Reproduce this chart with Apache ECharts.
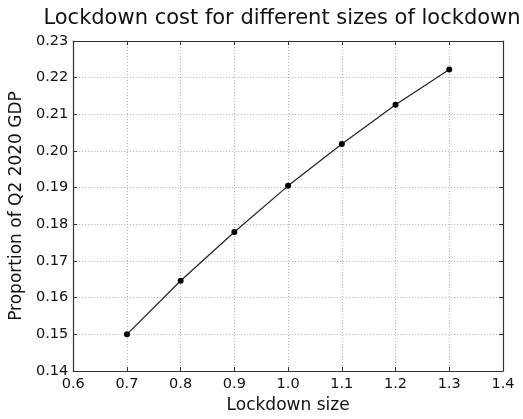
<!DOCTYPE html>
<html>
<head>
<meta charset="utf-8">
<script src="https://cdn.jsdelivr.net/npm/echarts@6/dist/echarts.min.js"></script>
<style>
  html, body { margin: 0; padding: 0; background: #ffffff; }
  #chart { width: 523px; height: 419px; }
</style>
</head>
<body>
<div id="chart"></div>
<script>
// Lockdown size (multiplier) and resulting cost as a share of Q2 2020 GDP
const lockdownSizes = [0.7, 0.8, 0.9, 1.0, 1.1, 1.2, 1.3];
const costShares = [0.1500, 0.1646, 0.1779, 0.1905, 0.2019, 0.2126, 0.2222];

const titleText = 'Lockdown cost for different sizes of lockdown';
const xName = 'Lockdown size';
const yName = 'Proportion of Q2 2020 GDP';

const FONT = '"DejaVu Sans", sans-serif';
const INK = '#111111';

const chart = echarts.init(document.getElementById('chart'), null, { renderer: 'canvas' });

const gridLine = { show: true, lineStyle: { color: '#b0b0b0', type: [1, 2], width: 1 } };
const frameLine = { show: true, onZero: false, lineStyle: { color: '#333333', width: 1.2 } };
const tick = { show: true, inside: true, length: 4, lineStyle: { color: '#333333', width: 1 } };

const xFmt = v => v.toFixed(1);
const yFmt = v => v.toFixed(2);

chart.setOption({
  animation: false,
  backgroundColor: '#ffffff',
  title: {
    text: titleText,
    left: 277,
    top: 3,
    textAlign: 'center',
    textStyle: { fontFamily: FONT, fontSize: 21, fontWeight: 'normal', color: INK }
  },
  grid: { left: 71, right: 20, top: 41, bottom: 45, containLabel: false },
  xAxis: [
    {
      type: 'value', position: 'bottom', min: 0.6, max: 1.4, interval: 0.1,
      name: xName, nameLocation: 'middle', nameGap: 26,
      nameTextStyle: { fontFamily: FONT, fontSize: 17, color: INK },
      axisLine: frameLine, axisTick: tick, splitLine: gridLine,
      axisLabel: { fontFamily: FONT, fontSize: 14.5, color: INK, margin: 6, formatter: xFmt }
    },
    {
      type: 'value', position: 'top', min: 0.6, max: 1.4, interval: 0.1,
      axisLine: frameLine, axisTick: tick, splitLine: { show: false },
      axisLabel: { show: false }
    }
  ],
  yAxis: [
    {
      type: 'value', position: 'left', min: 0.14, max: 0.23, interval: 0.01,
      name: yName, nameLocation: 'middle', nameGap: 40, nameRotate: 90,
      nameTextStyle: { fontFamily: FONT, fontSize: 17, color: INK },
      axisLine: frameLine, axisTick: tick, splitLine: gridLine,
      axisLabel: { fontFamily: FONT, fontSize: 14.5, color: INK, margin: 5, formatter: yFmt }
    },
    {
      type: 'value', position: 'right', min: 0.14, max: 0.23, interval: 0.01,
      axisLine: frameLine, axisTick: tick, splitLine: { show: false },
      axisLabel: { show: false }
    }
  ],
  series: [
    {
      type: 'line',
      xAxisIndex: 0, yAxisIndex: 0,
      data: lockdownSizes.map((x, i) => [x, costShares[i]]),
      symbol: 'circle', symbolSize: 6,
      lineStyle: { color: '#222222', width: 1.2 },
      itemStyle: { color: '#000000' },
      z: 5
    }
  ]
});
</script>
</body>
</html>
